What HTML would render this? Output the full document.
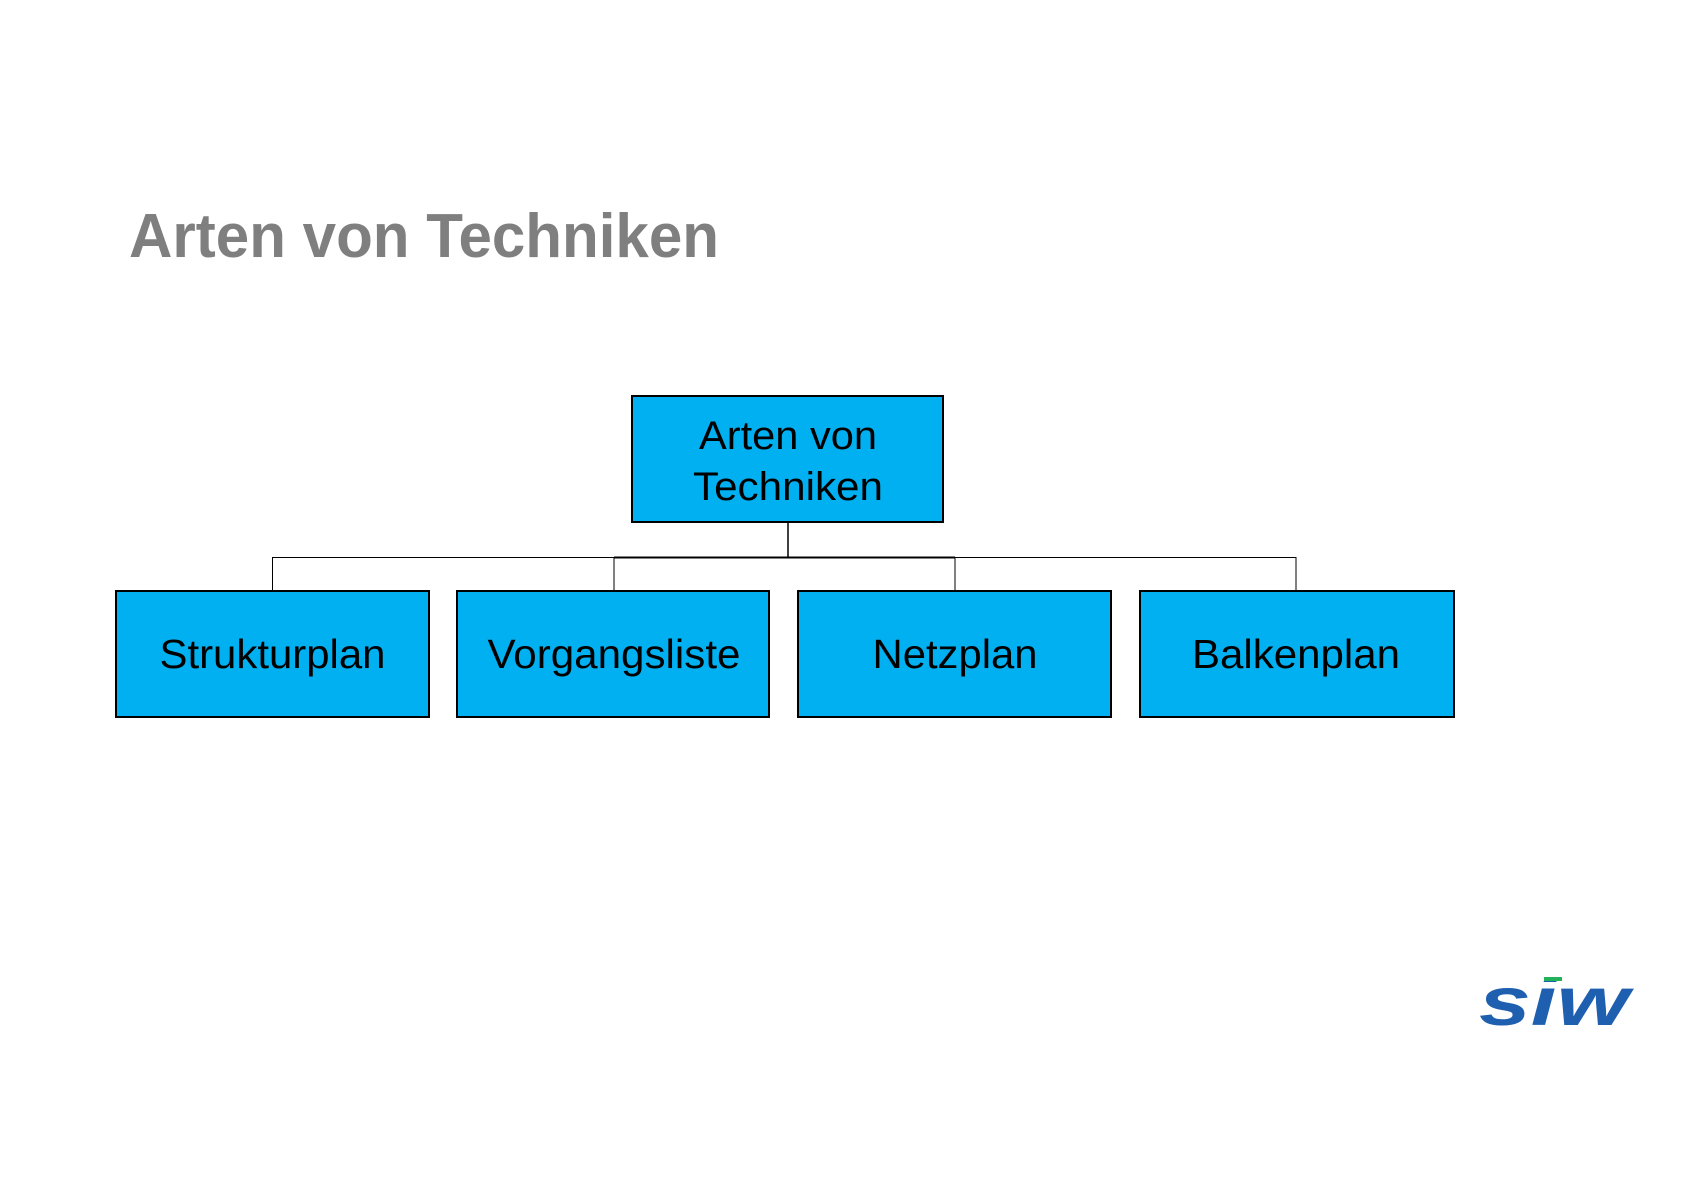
<!DOCTYPE html>
<html><head><meta charset="utf-8"><style>
html,body{margin:0;padding:0;background:#fff;}
svg{display:block;}
</style></head><body>
<svg width="1683" height="1190" viewBox="0 0 1683 1190" xmlns="http://www.w3.org/2000/svg">
<text x="129" y="257" font-family="Liberation Sans, sans-serif" font-weight="bold" font-size="62" fill="#7f7f7f" textLength="590" lengthAdjust="spacingAndGlyphs">Arten von Techniken</text>
<g stroke="#000" fill="none">
<line x1="788" y1="523" x2="788" y2="557.5" stroke-width="1.5"/>
<line x1="272.5" y1="557.5" x2="1296" y2="557.5" stroke-width="1"/>
<line x1="614" y1="557.5" x2="955" y2="557.5" stroke-width="2"/>
<line x1="272.5" y1="557" x2="272.5" y2="592" stroke-width="1"/>
<line x1="614" y1="557" x2="614" y2="592" stroke-width="1"/>
<line x1="955" y1="557" x2="955" y2="592" stroke-width="1"/>
<line x1="1296" y1="557" x2="1296" y2="592" stroke-width="1"/>
</g>
<g fill="#00b0f0" stroke="#000" stroke-width="2">
<rect x="632" y="396" width="311" height="126"/>
<rect x="116" y="591" width="313" height="126"/>
<rect x="457" y="591" width="312" height="126"/>
<rect x="798" y="591" width="313" height="126"/>
<rect x="1140" y="591" width="314" height="126"/>
</g>
<g font-family="Liberation Sans, sans-serif" font-size="40" fill="#000" text-anchor="middle">
<text x="788" y="449" textLength="178" lengthAdjust="spacingAndGlyphs">Arten von</text>
<text x="788" y="500" textLength="190" lengthAdjust="spacingAndGlyphs">Techniken</text>
<text x="272.5" y="668" font-size="41" textLength="226" lengthAdjust="spacingAndGlyphs">Strukturplan</text>
<text x="614" y="668" font-size="41" textLength="253" lengthAdjust="spacingAndGlyphs">Vorgangsliste</text>
<text x="955" y="668" font-size="41" textLength="165" lengthAdjust="spacingAndGlyphs">Netzplan</text>
<text x="1296" y="668" font-size="41" textLength="208" lengthAdjust="spacingAndGlyphs">Balkenplan</text>
</g>
<g transform="translate(1479,1025) scale(1,1.15)">
<text x="0" y="0" font-family="Liberation Sans, sans-serif" font-weight="bold" font-style="italic" font-size="60" fill="#1f5fb0" textLength="150" lengthAdjust="spacingAndGlyphs">siw</text>
</g>
<rect x="1542" y="974" width="22" height="7" fill="#fff"/>
<rect x="1544" y="977" width="18" height="4" fill="#22b35a"/>
</svg>
</body></html>
